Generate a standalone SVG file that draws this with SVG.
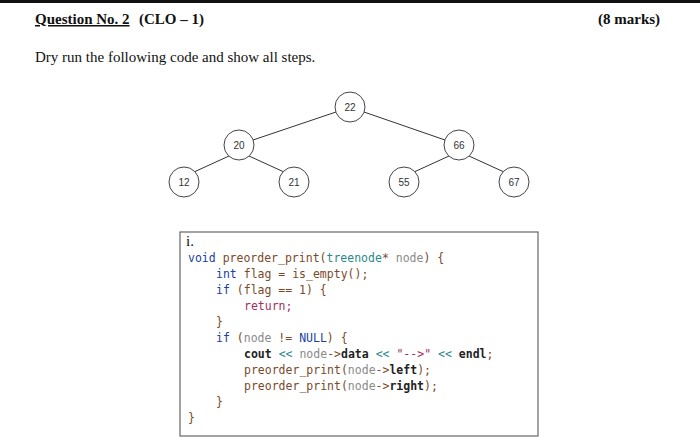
<svg xmlns="http://www.w3.org/2000/svg" width="700" height="446" viewBox="0 0 700 446">
<style>
.t{font-family:"Liberation Serif",serif;font-size:15px;fill:#111}
.b{font-weight:bold}
.n circle{fill:#fff;stroke:#444;stroke-width:1}
.n text{font-family:"Liberation Sans",sans-serif;font-size:10px;fill:#333;text-anchor:middle}
.c{font-family:"DejaVu Sans Mono","Liberation Mono",monospace;font-size:11.5px;fill:#7a4a2a}
.k{fill:#2040a0}.g{fill:#8a8a8a}.d{fill:#222;font-weight:bold}.s{fill:#2a8a8a}.r{fill:#a03060}
</style>
<rect x="0" y="0" width="700" height="3" fill="#111"/>
<text class="t b" x="35" y="24" text-decoration="underline">Question No. 2</text>
<text class="t b" x="139" y="24">(CLO – 1)</text>
<text class="t b" x="598" y="24">(8 marks)</text>
<text class="t" x="35" y="62">Dry run the following code and show all steps.</text>
<g id="connectors" stroke="#333" stroke-width="1">
<line x1="336" y1="112" x2="253" y2="140"/>
<line x1="364" y1="112" x2="445" y2="140"/>
<line x1="229" y1="156" x2="194" y2="172"/>
<line x1="249" y1="156" x2="284" y2="172"/>
<line x1="449" y1="156" x2="414" y2="172"/>
<line x1="469" y1="156" x2="504" y2="172"/>
</g>
<g id="n22" class="n"><circle cx="350" cy="107" r="15"/><text x="350" y="111">22</text></g>
<g id="n20" class="n"><circle cx="239" cy="145" r="15"/><text x="239" y="149">20</text></g>
<g id="n66" class="n"><circle cx="459" cy="145" r="15"/><text x="459" y="149">66</text></g>
<g id="n12" class="n"><circle cx="184" cy="182" r="15"/><text x="184" y="186">12</text></g>
<g id="n21" class="n"><circle cx="294" cy="182" r="15"/><text x="294" y="186">21</text></g>
<g id="n55" class="n"><circle cx="404" cy="182" r="15"/><text x="404" y="186">55</text></g>
<g id="n67" class="n"><circle cx="514" cy="182" r="15"/><text x="514" y="186">67</text></g>
<g id="code">
<rect x="180" y="232" width="358" height="204" fill="#fff" stroke="#666" stroke-width="1.2"/>
<text class="t" x="186" y="246" font-size="12">i.</text>
<text class="c" x="188" y="262"><tspan class="k">void</tspan> preorder_print(<tspan class="s">treenode</tspan>* <tspan class="g">node</tspan>) {</text>
<text class="c" x="216" y="278"><tspan class="k">int</tspan> flag = is_empty();</text>
<text class="c" x="216" y="294"><tspan class="k">if</tspan> (flag == 1) {</text>
<text class="c r" x="244" y="310">return;</text>
<text class="c" x="216" y="326">}</text>
<text class="c" x="216" y="342"><tspan class="k">if</tspan> (<tspan class="g">node</tspan> != <tspan class="k">NULL</tspan>) {</text>
<text class="c" x="244" y="358"><tspan class="d">cout</tspan> <tspan class="s">&lt;&lt;</tspan> <tspan class="g">node</tspan>-&gt;<tspan class="d">data</tspan> <tspan class="s">&lt;&lt;</tspan> <tspan class="r">"--&gt;"</tspan> <tspan class="s">&lt;&lt;</tspan> <tspan class="d">endl</tspan>;</text>
<text class="c" x="244" y="374">preorder_print(<tspan class="g">node</tspan>-&gt;<tspan class="d">left</tspan>);</text>
<text class="c" x="244" y="390">preorder_print(<tspan class="g">node</tspan>-&gt;<tspan class="d">right</tspan>);</text>
<text class="c" x="216" y="406">}</text>
<text class="c" x="188" y="422">}</text>
</g>
</svg>
